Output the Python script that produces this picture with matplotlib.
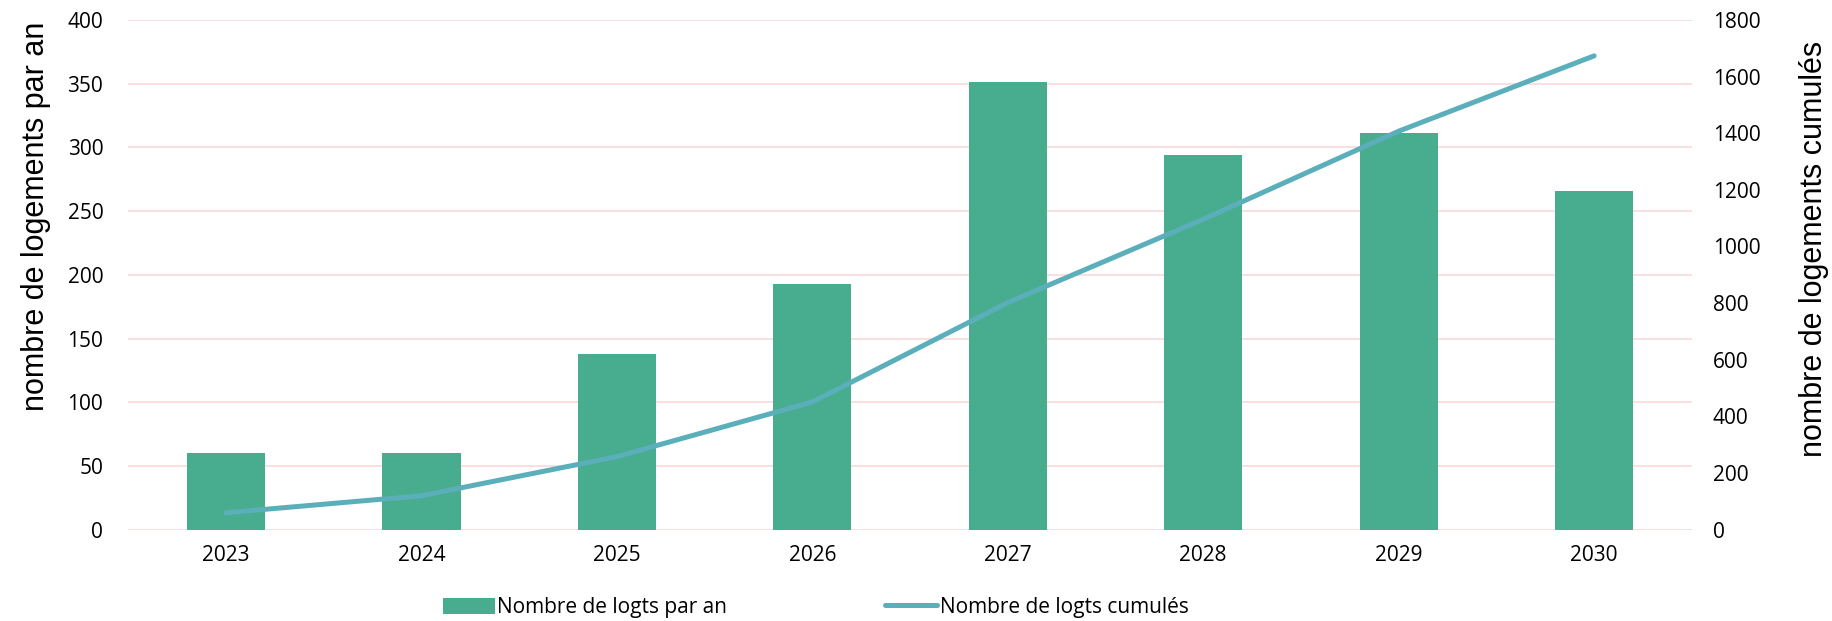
import numpy as np
import matplotlib
matplotlib.use('Agg')
import matplotlib.pyplot as plt
from matplotlib.patches import Patch
from matplotlib.lines import Line2D

years = ['2023', '2024', '2025', '2026', '2027', '2028', '2029', '2030']
logts_par_an = [60, 60, 138, 193, 351, 294, 311, 266]
logts_cumules = [60, 120, 258, 451, 802, 1096, 1407, 1673]

bar_color = '#48AD8E'
line_color = '#5AAFBA'
grid_color = '#FADCDE'

fig = plt.figure(figsize=(18.33, 6.21), dpi=100)
ax = fig.add_axes([0.070, 0.147, 0.853, 0.821])
ax2 = ax.twinx()

x = np.arange(len(years))
ax.bar(x, logts_par_an, width=0.4, color=bar_color, zorder=2)
ax2.plot(x, logts_cumules, color=line_color, lw=3.6, solid_capstyle='round', zorder=3)

ax.set_xlim(-0.5, len(years) - 0.5)
ax.set_ylim(0, 400)
ax.set_yticks(np.arange(0, 401, 50))
ax2.set_ylim(0, 1800)
ax2.set_yticks(np.arange(0, 1801, 200))
ax.set_xticks(x)
ax.set_xticklabels(years)

ax.grid(axis='y', color=grid_color, lw=1.3, zorder=0)
ax.set_axisbelow(True)
for a in (ax, ax2):
    for s in a.spines.values():
        s.set_visible(False)
    a.tick_params(length=0, labelsize=15, colors='#000000')
    for lab in a.get_xticklabels() + a.get_yticklabels():
        lab.set_fontfamily('Open Sans')
ax.tick_params(axis='y', pad=18)
ax.tick_params(axis='x', pad=11)
ax2.tick_params(axis='y', pad=15)
ax2.set_zorder(ax.get_zorder() + 1)
ax2.patch.set_visible(False)

ax.set_ylabel('nombre de logements par an', fontsize=22, family='Liberation Sans', labelpad=12)
ax2.set_ylabel('nombre de logements cumulés', fontsize=22, family='Liberation Sans', labelpad=28)
# labels are not centred on the axes in the original
ax.yaxis.label.set_y(0.615)
ax2.yaxis.label.set_y(0.55)

handles = [Patch(facecolor=bar_color, edgecolor='none'),
           Line2D([0], [0], color=line_color, lw=3.6, solid_capstyle='round')]
labels = ['Nombre de logts par an', 'Nombre de logts cumulés']
fig.legend(handles, labels, loc='center', bbox_to_anchor=(0.445, 0.022), ncol=2,
           frameon=False, prop={'family': 'Open Sans', 'size': 15},
           handlelength=2.5, handletextpad=0.1, columnspacing=7.6, handleheight=0.8)

fig.savefig('out.png', dpi=100)
